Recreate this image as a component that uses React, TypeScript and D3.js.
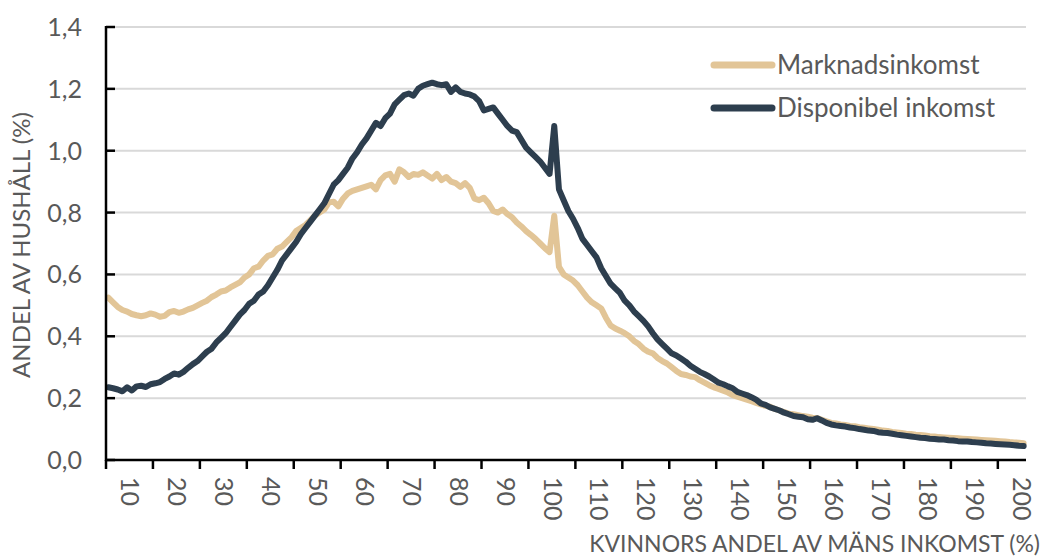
import React from "react";
import * as d3 from "d3";

const categories: number[] = d3.range(5, 201);
const xTickLabels: number[] = [10, 20, 30, 40, 50, 60, 70, 80, 90, 100, 110, 120, 130, 140, 150, 160, 170, 180, 190, 200];
const yTicks: number[] = [0, 0.2, 0.4, 0.6, 0.8, 1.0, 1.2, 1.4];

const marknadsinkomst: number[] = [
  0.525, 0.51, 0.495, 0.485, 0.48, 0.472, 0.468, 0.465, 0.468, 0.474,
  0.47, 0.463, 0.466, 0.478, 0.482, 0.476, 0.48, 0.487, 0.492, 0.5,
  0.508, 0.515, 0.527, 0.535, 0.545, 0.548, 0.558, 0.566, 0.574, 0.59,
  0.6, 0.62, 0.625, 0.645, 0.66, 0.665, 0.683, 0.69, 0.705, 0.72,
  0.74, 0.75, 0.76, 0.775, 0.79, 0.8, 0.81, 0.833, 0.835, 0.82,
  0.845, 0.862, 0.87, 0.875, 0.88, 0.885, 0.89, 0.875, 0.905, 0.92,
  0.925, 0.9, 0.94, 0.93, 0.915, 0.925, 0.922, 0.93, 0.92, 0.91,
  0.925, 0.905, 0.915, 0.9, 0.895, 0.883, 0.895, 0.88, 0.845, 0.84,
  0.848, 0.83, 0.805, 0.8, 0.81, 0.795, 0.785, 0.768, 0.755, 0.74,
  0.728, 0.715, 0.7, 0.685, 0.672, 0.79, 0.625, 0.6, 0.59, 0.58,
  0.565, 0.545, 0.525, 0.51, 0.5, 0.49, 0.46, 0.435, 0.425, 0.418,
  0.41, 0.4, 0.385, 0.375, 0.36, 0.35, 0.345, 0.33, 0.32, 0.312,
  0.3, 0.288, 0.278, 0.275, 0.27, 0.268, 0.258, 0.25, 0.242, 0.235,
  0.23, 0.224, 0.218, 0.21, 0.205, 0.2, 0.195, 0.19, 0.185, 0.18,
  0.175, 0.172, 0.165, 0.16, 0.155, 0.15, 0.148, 0.145, 0.142, 0.14,
  0.137, 0.136, 0.13, 0.125, 0.12, 0.118, 0.115, 0.113, 0.11, 0.109,
  0.106, 0.104, 0.102, 0.1, 0.098, 0.095, 0.094, 0.091, 0.089, 0.087,
  0.085, 0.084, 0.082, 0.081, 0.079, 0.077, 0.076, 0.074, 0.073, 0.072,
  0.071, 0.07, 0.069, 0.068, 0.067, 0.066, 0.065, 0.064, 0.063, 0.062,
  0.061, 0.06, 0.058, 0.057, 0.056, 0.054,
];

const disponibelInkomst: number[] = [
  0.235, 0.232, 0.228, 0.222, 0.235, 0.225, 0.238, 0.24, 0.236, 0.245,
  0.248, 0.252, 0.262, 0.27, 0.28, 0.276, 0.285, 0.298, 0.31, 0.32,
  0.335, 0.35, 0.36, 0.38, 0.395, 0.41, 0.43, 0.45, 0.47, 0.485,
  0.505, 0.515, 0.535, 0.545, 0.565, 0.59, 0.615, 0.645, 0.665, 0.685,
  0.705, 0.73, 0.75, 0.77, 0.79, 0.81, 0.83, 0.86, 0.89, 0.905,
  0.925, 0.945, 0.975, 0.995, 1.02, 1.04, 1.065, 1.09, 1.08, 1.105,
  1.12, 1.15, 1.165, 1.18, 1.185, 1.178, 1.2, 1.21, 1.215, 1.22,
  1.215, 1.212, 1.215, 1.19, 1.205, 1.19, 1.185, 1.182, 1.175, 1.16,
  1.13, 1.135, 1.14, 1.12, 1.1, 1.08, 1.065, 1.06, 1.035, 1.01,
  0.995, 0.98, 0.965, 0.945, 0.925, 1.08, 0.875, 0.84, 0.805, 0.78,
  0.75, 0.715, 0.695, 0.675, 0.655, 0.62, 0.595, 0.57, 0.555, 0.54,
  0.515, 0.5, 0.48, 0.465, 0.45, 0.432, 0.41, 0.39, 0.375, 0.36,
  0.345, 0.338, 0.328, 0.318, 0.305, 0.295, 0.285, 0.278, 0.27, 0.26,
  0.25, 0.245, 0.238, 0.232, 0.22, 0.215, 0.21, 0.203, 0.195, 0.183,
  0.178, 0.17, 0.165, 0.16, 0.153, 0.148, 0.142, 0.14, 0.138, 0.132,
  0.13, 0.135, 0.128, 0.12, 0.115, 0.112, 0.11, 0.108, 0.105, 0.103,
  0.1, 0.098, 0.095, 0.094, 0.09, 0.088, 0.087, 0.085, 0.082, 0.08,
  0.078, 0.076, 0.074, 0.072, 0.071, 0.069, 0.068, 0.066, 0.066, 0.064,
  0.063, 0.061, 0.06, 0.06, 0.058, 0.057, 0.056, 0.054, 0.053, 0.052,
  0.051, 0.05, 0.049, 0.048, 0.046, 0.045,
];

const seriesNames = ["Marknadsinkomst", "Disponibel inkomst"];
const seriesColors = ["#E2C597", "#2D3E4E"];

const W = 1045;
const H = 558;
const LEFT = 106;
const RIGHT = 1026;
const TOP = 27;
const BOTTOM = 460;
const FONT = "Lato, 'Open Sans', sans-serif";
const TEXT = "#595959";

export default function App() {
  const x = d3.scaleBand<number>().domain(categories).range([LEFT, RIGHT]).padding(0);
  const y = d3.scaleLinear().domain([0, 1.4]).range([BOTTOM, TOP]);
  const cx = (c: number) => (x(c) as number) + x.bandwidth() / 2;

  const line = d3
    .line<number>()
    .x((_, i) => cx(categories[i]))
    .y((d) => y(d))
    .curve(d3.curveLinear);

  const tickCats = categories.filter((_, i) => i % 10 === 0);
  const fmt = (v: number) => v.toFixed(1).replace(".", ",");

  return (
    <svg
      width={W}
      height={H}
      style={{ position: "absolute", left: 0, top: 0, background: "#fff" }}
      fontFamily={FONT}
    >
      {yTicks.slice(1).map((t) => (
        <line key={"g" + t} x1={LEFT} x2={RIGHT} y1={y(t)} y2={y(t)} stroke="#D9D9D9" strokeWidth={2} />
      ))}
      {yTicks.map((t) => (
        <text key={"yl" + t} x={82} y={y(t)} dy="0.36em" textAnchor="end" fontSize={25} fill={TEXT}>
          {fmt(t)}
        </text>
      ))}
      {yTicks.map((t) => (
        <line key={"yt" + t} x1={LEFT} x2={LEFT + 9} y1={y(t)} y2={y(t)} stroke="#000" strokeWidth={2.5} />
      ))}
      {tickCats.map((c) => (
        <line key={"xt" + c} x1={x(c) as number} x2={x(c) as number} y1={BOTTOM} y2={BOTTOM + 9} stroke="#000" strokeWidth={2.5} />
      ))}
      {xTickLabels.map((c) => (
        <text
          key={"xl" + c}
          transform={`translate(${cx(c) - 2},${477}) rotate(90)`}
          dy="0.35em"
          textAnchor="start"
          fontSize={25}
          fill={TEXT}
        >
          {c}
        </text>
      ))}
      <path d={line(marknadsinkomst) || ""} fill="none" stroke={seriesColors[0]} strokeWidth={6} strokeLinejoin="round" strokeLinecap="round" />
      <path d={line(disponibelInkomst) || ""} fill="none" stroke={seriesColors[1]} strokeWidth={6} strokeLinejoin="round" strokeLinecap="round" />
      <line x1={LEFT} x2={LEFT} y1={TOP - 1} y2={BOTTOM + 1} stroke="#000" strokeWidth={2.5} />
      <line x1={LEFT} x2={RIGHT} y1={BOTTOM} y2={BOTTOM} stroke="#000" strokeWidth={2.5} />
      <text transform={`translate(30,245) rotate(-90)`} textAnchor="middle" fontSize={24} fill={TEXT}>
        ANDEL AV HUSHÅLL (%)
      </text>
      <text x={1040} y={552} textAnchor="end" fontSize={23} fill={TEXT}>
        KVINNORS ANDEL AV MÄNS INKOMST (%)
      </text>
      {seriesNames.map((n, i) => (
        <g key={n}>
          <line x1={714} x2={772} y1={65 + i * 43} y2={65 + i * 43} stroke={seriesColors[i]} strokeWidth={7} strokeLinecap="round" />
          <text x={777} y={65 + i * 43} dy="0.36em" fontSize={26} fill={TEXT}>
            {n}
          </text>
        </g>
      ))}
    </svg>
  );
}
